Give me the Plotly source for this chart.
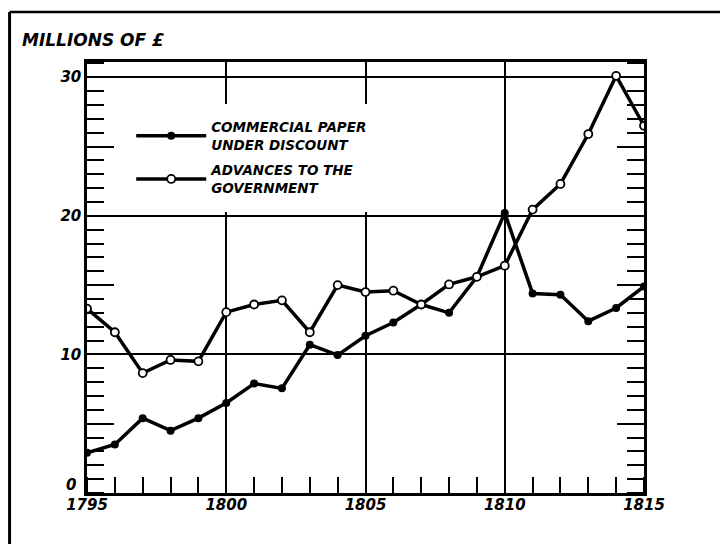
import plotly.graph_objects as go

years = list(range(1795, 1816))
commercial_paper = [2.9, 3.5, 5.4, 4.5, 5.4, 6.5, 7.9, 7.55, 10.7, 9.95, 11.35,
                    12.3, 13.6, 13.0, 15.6, 20.2, 14.4, 14.3, 12.4, 13.35, 14.9]
advances_govt = [13.3, 11.6, 8.65, 9.6, 9.5, 13.05, 13.6, 13.9, 11.6, 15.0, 14.5,
                 14.6, 13.6, 15.05, 15.6, 16.4, 20.45, 22.3, 25.9, 30.1, 26.5]
x_ticks = [1795, 1800, 1805, 1810, 1815]
y_ticks = [0, 10, 20, 30]
y_tick_text = ["", "10", "20", "30"]
y_mid_ticks = [5, 15, 25]

FONT = "DejaVu Sans"
tickfont = dict(family=FONT, size=15, color="black", weight="bold", style="italic")

fig = go.Figure()
fig.add_trace(go.Scatter(
    x=years, y=commercial_paper, mode="lines+markers",
    name="COMMERCIAL PAPER<br>UNDER DISCOUNT", legendgroup="a",
    line=dict(color="black", width=3.5),
    marker=dict(symbol="circle", size=8, color="black"),
))
fig.add_trace(go.Scatter(
    x=years, y=advances_govt, mode="lines+markers",
    name="ADVANCES TO THE<br>GOVERNMENT", legendgroup="b",
    line=dict(color="black", width=3.5),
    marker=dict(symbol="circle", size=8, color="white", line=dict(color="black", width=1.8)),
))
# invisible helper trace on second y axis for the mid (5s) ticks
fig.add_trace(go.Scatter(x=[years[0]], y=[0], yaxis="y2", mode="markers",
                         marker=dict(opacity=0), showlegend=False, hoverinfo="skip"))

yr = [0, 31.1]
fig.update_layout(
    width=720, height=544,
    margin=dict(l=87, r=76, t=62, b=51),
    paper_bgcolor="white", plot_bgcolor="white",
    font=dict(family=FONT, color="black"),
    xaxis=dict(
        range=[1795, 1815], tickvals=x_ticks, ticks="", showgrid=True,
        gridcolor="black", gridwidth=1.5, showline=True, linecolor="black",
        linewidth=3, mirror=True, zeroline=False, tickfont=tickfont,
        ticklabelstandoff=-4,
        minor=dict(dtick=1, tick0=1795, ticks="inside", ticklen=16,
                   tickwidth=1.5, tickcolor="black", showgrid=False),
    ),
    yaxis=dict(
        range=yr, tickvals=y_ticks, ticktext=y_tick_text, ticks="", showgrid=True,
        gridcolor="black", gridwidth=1.5, showline=True, linecolor="black",
        linewidth=2.5, mirror="allticks", zeroline=False, tickfont=tickfont,
        minor=dict(dtick=1, tick0=0, ticks="inside", ticklen=17,
                   tickwidth=1.5, tickcolor="black", showgrid=False),
    ),
    yaxis2=dict(
        range=yr, overlaying="y", side="left", tickvals=y_mid_ticks,
        ticks="inside", ticklen=27, tickwidth=1.5, tickcolor="black",
        showticklabels=False, showgrid=False, showline=False,
        mirror="allticks", zeroline=False,
    ),
    legend=dict(
        x=0.065, y=0.903, xanchor="left", yanchor="top",
        bgcolor="white", bordercolor="white", borderwidth=8, itemwidth=70,
        font=dict(family=FONT, size=13.5, color="black", weight="bold", style="italic"),
        tracegroupgap=5,
    ),
    showlegend=True,
    annotations=[
        dict(text="MILLIONS OF £", xref="paper", yref="paper",
             x=-0.12, y=1.051, xanchor="left", yanchor="middle", showarrow=False,
             font=dict(family=FONT, size=17, color="black", weight="bold", style="italic")),
        dict(text=str(y_ticks[0]), xref="paper", yref="y", x=0, y=y_ticks[0],
             xanchor="right", yanchor="middle", xshift=-9, yshift=8, showarrow=False,
             font=tickfont),
    ],
    shapes=[
        dict(type="line", xref="paper", yref="paper", x0=-0.139, x1=1.2,
             y0=1.116, y1=1.116, line=dict(color="black", width=2.5)),
        dict(type="line", xref="paper", yref="paper", x0=-0.139, x1=-0.139,
             y0=1.116, y1=-0.2, line=dict(color="black", width=3)),
    ],
)

fig.write_html("out.html", config={"displayModeBar": False},
               post_script="document.body.style.margin='0';")
